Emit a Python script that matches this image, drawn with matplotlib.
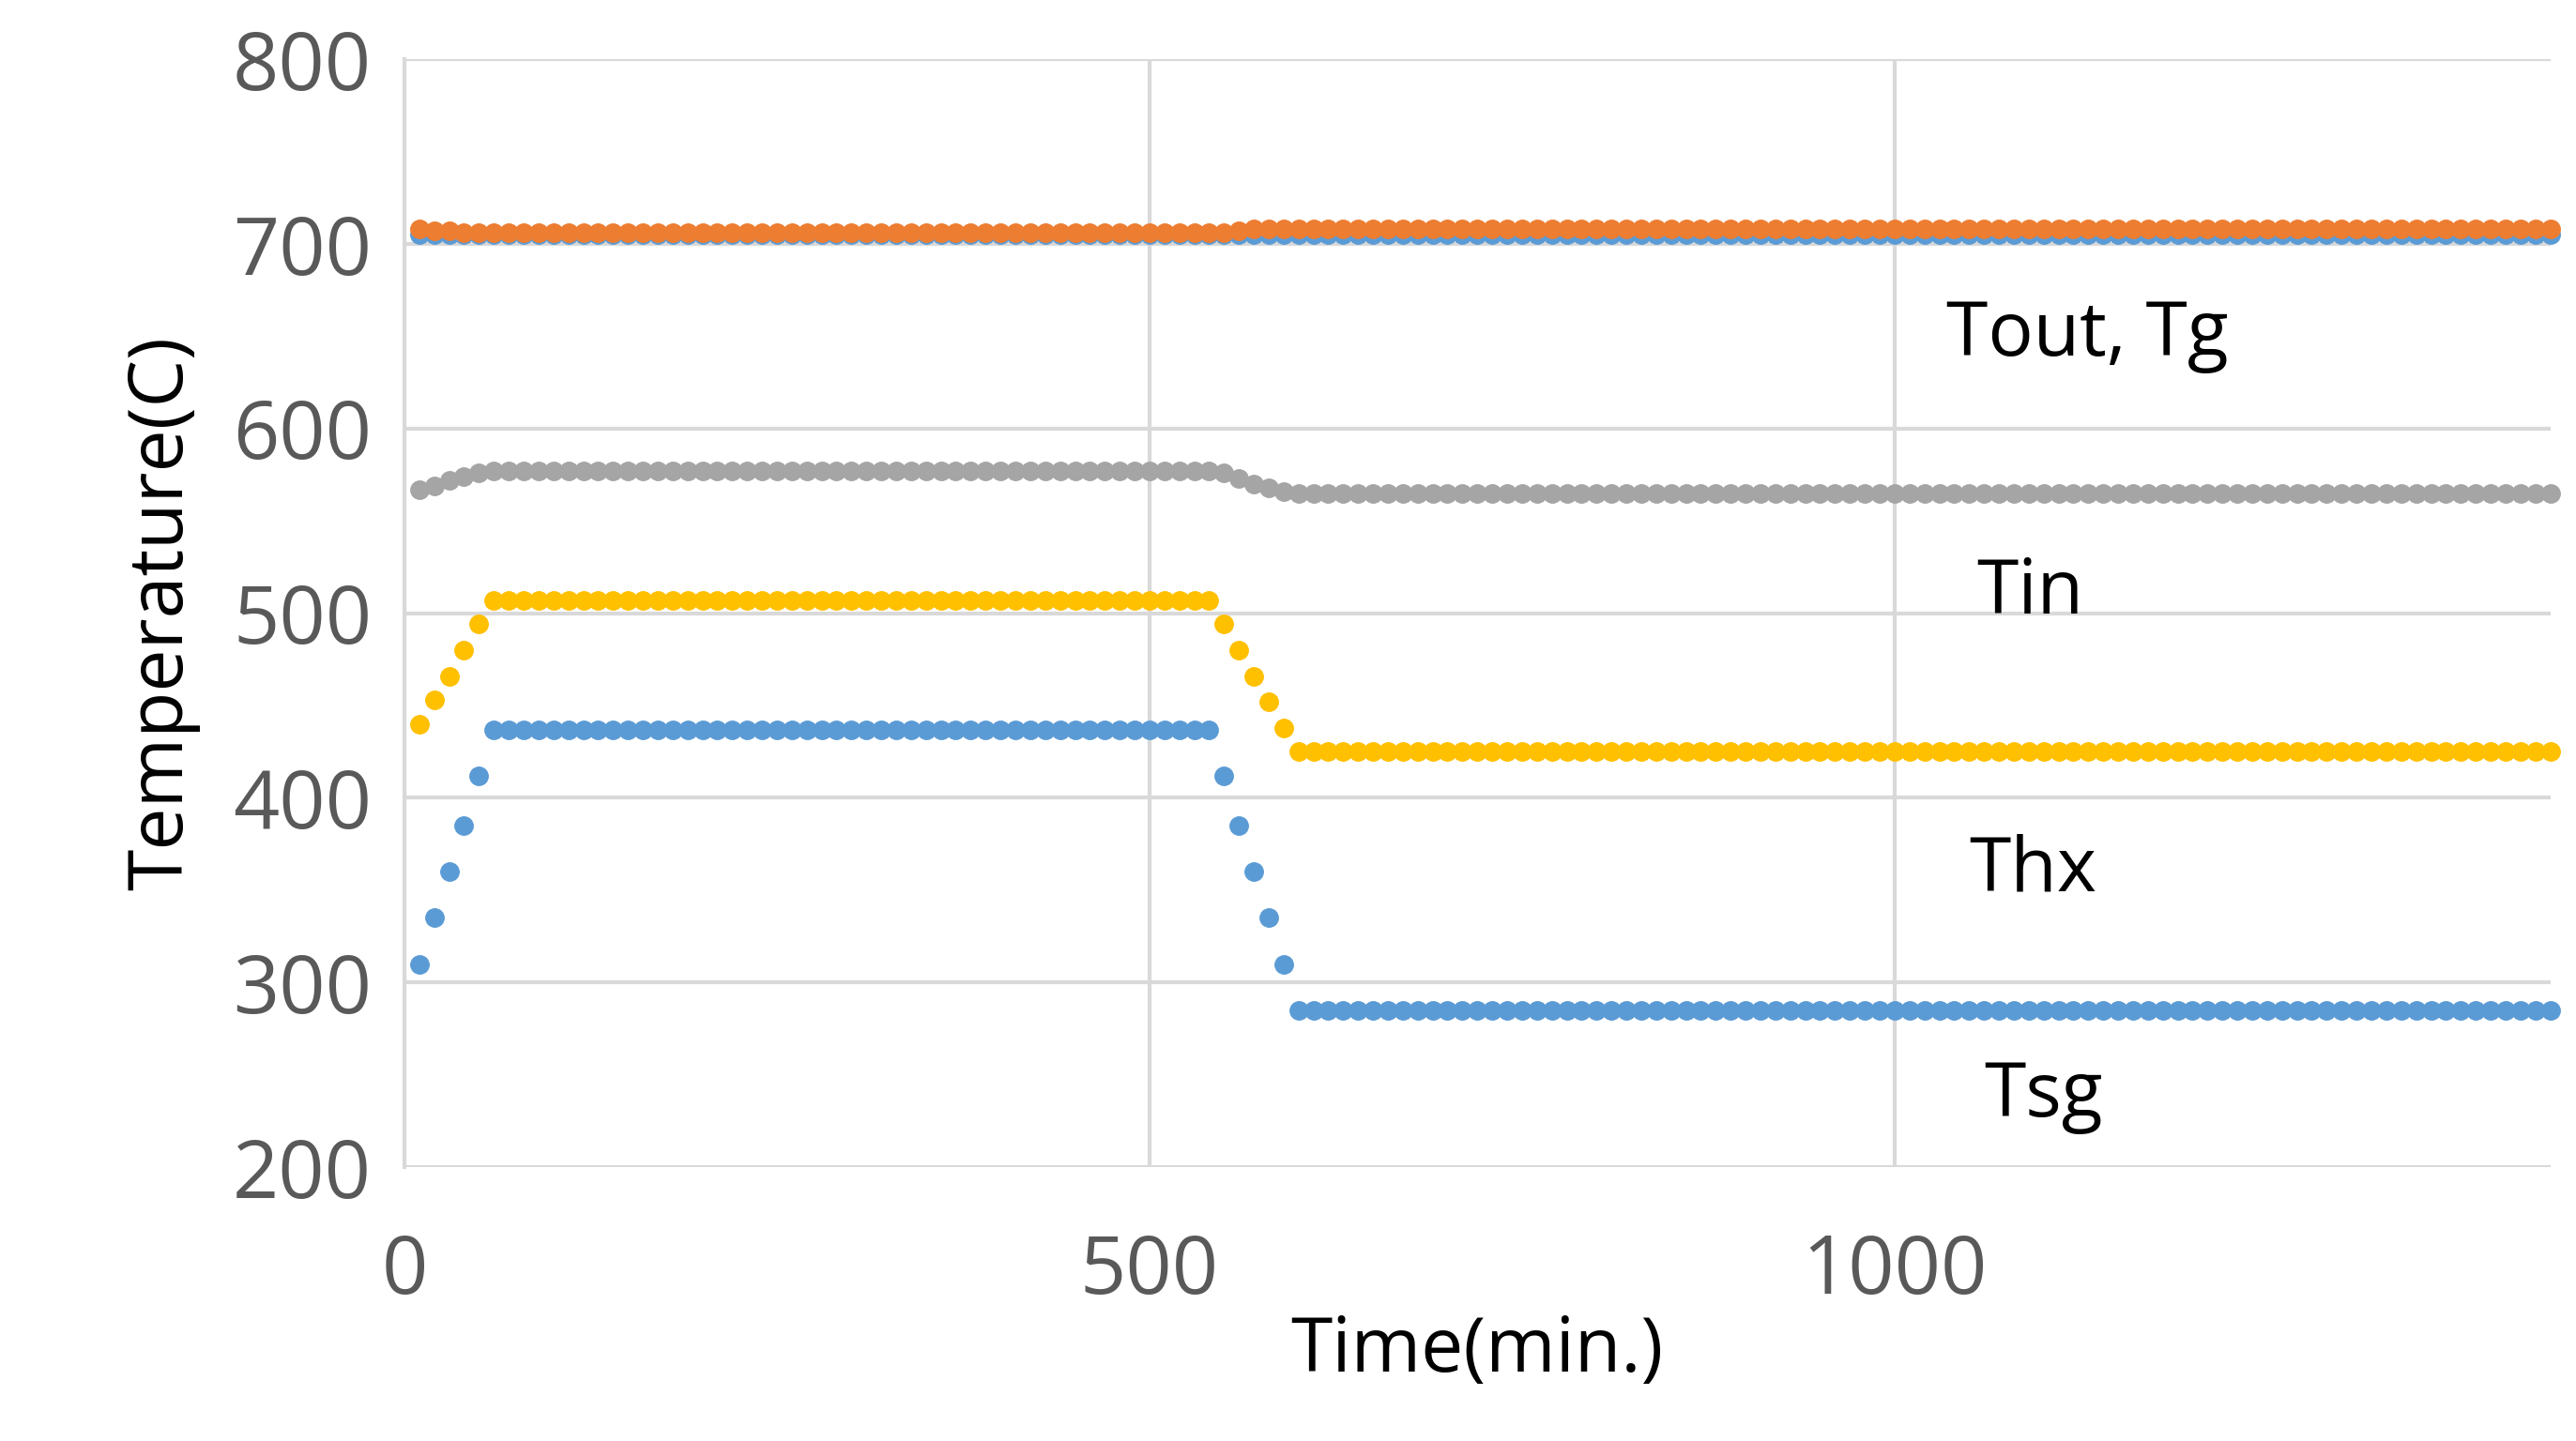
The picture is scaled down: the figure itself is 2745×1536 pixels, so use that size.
import numpy as np
import matplotlib.pyplot as plt

plt.rcParams['font.family'] = ['Open Sans', 'DejaVu Sans']

# time axis (min.)
t = np.arange(10, 1441, 10)
n_mid = 48  # 60..530 flat part length
n_end = len(t) - 6 - n_mid - 6

tsg = [310, 335, 360, 385, 412, 437] + [437] * n_mid + [412, 385, 360, 335, 310, 285] + [285] * n_end
thx = [440, 453, 466, 480, 494, 507] + [507] * n_mid + [494, 480, 466, 452, 438, 425] + [425] * n_end
tin = [567, 569, 572, 574, 576, 577] + [577] * n_mid + [576, 573, 570, 568, 566, 565] + [565] * n_end
tout = [705] * len(t)
tg = [708, 707, 707, 706] + [706] * (n_mid + 2) + [706, 707, 708, 708, 708, 708] + [708] * n_end

fig = plt.figure(figsize=(27.45, 15.36), dpi=100)
ax = fig.add_axes([0.157, 0.19, 0.833, 0.769])

ms = 14
ax.plot(t, tout, 'o', color='#5b9bd5', ms=ms, ls='none', clip_on=False)
ax.plot(t, tg, 'o', color='#ed7d31', ms=ms, ls='none', clip_on=False)
ax.plot(t, tin, 'o', color='#a5a5a5', ms=ms, ls='none', clip_on=False)
ax.plot(t, thx, 'o', color='#ffc000', ms=ms, ls='none', clip_on=False)
ax.plot(t, tsg, 'o', color='#5b9bd5', ms=ms, ls='none', clip_on=False)

ax.set_xlim(0, 1440)
ax.set_ylim(200, 800)
ax.set_xticks([0, 500, 1000])
ax.set_yticks(range(200, 801, 100))
ax.grid(True, color='#d9d9d9', lw=3)
ax.set_axisbelow(True)
for s in ['top', 'right', 'bottom']:
    ax.spines[s].set_visible(False)
ax.spines['left'].set_color('#d9d9d9')
ax.spines['left'].set_linewidth(3)
ax.tick_params(length=0, labelsize=62, colors='#595959', pad=25)
ax.tick_params(axis='x', pad=50)

ax.set_xlabel('Time(min.)', fontsize=58, labelpad=0)
ax.set_ylabel('Temperature(C)', fontsize=58, labelpad=25)

for x, y, s in [(1035, 630, 'Tout, Tg'), (1055, 490, 'Tin'),
                (1050, 340, 'Thx'), (1060, 218, 'Tsg')]:
    ax.text(x, y, s, fontsize=58, va='bottom')

plt.savefig('out.png', dpi=100)
